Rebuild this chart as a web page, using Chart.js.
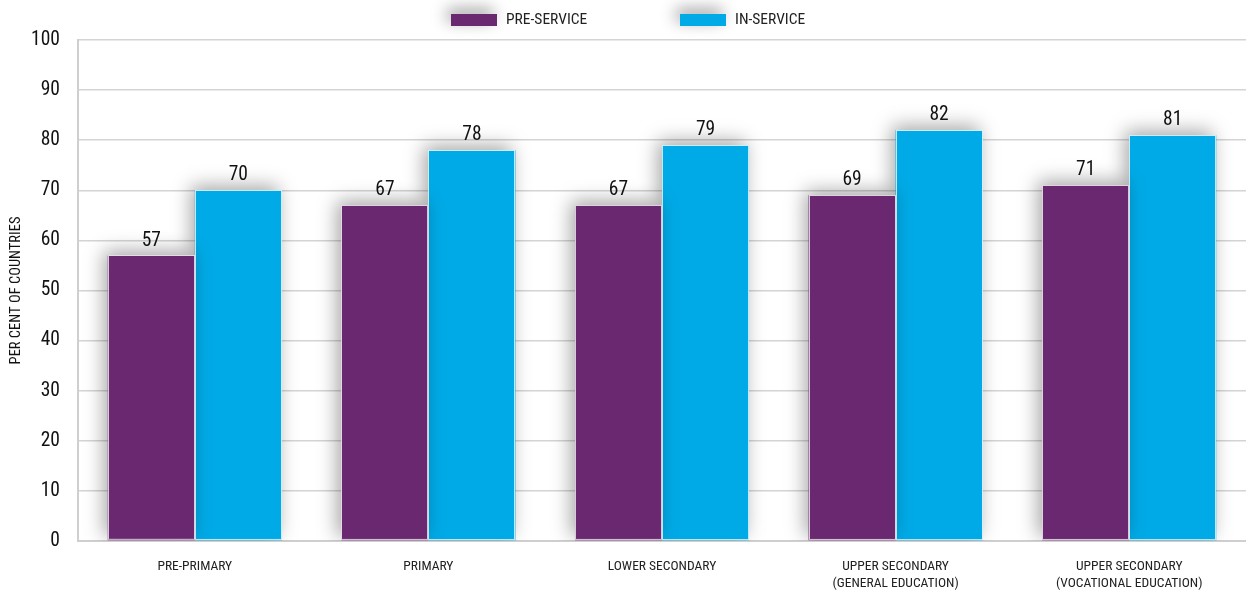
<!DOCTYPE html>
<html>
<head>
<meta charset="utf-8">
<script src="https://cdn.jsdelivr.net/npm/chart.js@4/dist/chart.umd.min.js"></script>
<style>
  html, body { margin: 0; padding: 0; background: #fff; }
  #wrap { width: 1246px; height: 590px; position: relative; }
</style>
</head>
<body>
<div id="wrap"><canvas id="chart"></canvas></div>
<script>
const levels = [
  'PRE-PRIMARY',
  'PRIMARY',
  'LOWER SECONDARY',
  ['UPPER SECONDARY', '(GENERAL EDUCATION)'],
  ['UPPER SECONDARY', '(VOCATIONAL EDUCATION)']
];
const preService = [57, 67, 67, 69, 71];
const inService = [70, 78, 79, 82, 81];
const yTicks = [0, 10, 20, 30, 40, 50, 60, 70, 80, 90, 100];

const FONT = '"Roboto Condensed", "Liberation Sans Narrow", "DejaVu Sans Condensed", "DejaVu Sans", sans-serif';
const STRETCH = 'condensed';

// soft shadow behind the bars (bars have no border so nothing clips it)
const barShadow = {
  id: 'barShadow',
  beforeDatasetsDraw(chart) {
    const ctx = chart.ctx;
    ctx.save();
    ctx.shadowColor = 'rgba(0,0,0,0.35)';
    ctx.shadowBlur = 18;
    ctx.shadowOffsetX = -4;
    ctx.shadowOffsetY = -4;
  },
  afterDatasetsDraw(chart) {
    chart.ctx.restore();
  }
};

// thin light outline + value labels above each bar
const valueLabels = {
  id: 'valueLabels',
  afterDatasetsDraw(chart) {
    const ctx = chart.ctx;
    ctx.save();
    ctx.strokeStyle = 'rgba(255,255,255,0.75)';
    ctx.lineWidth = 1;
    chart.data.datasets.forEach((ds, i) => {
      chart.getDatasetMeta(i).data.forEach(bar => {
        const left = Math.round(bar.x - bar.width / 2) + 0.5;
        const w = Math.round(bar.width) - 1;
        ctx.strokeRect(left, Math.round(bar.y) + 0.5, w, bar.base - bar.y - 1);
      });
    });
    ctx.font = STRETCH + ' 19.5px ' + FONT;
    ctx.fillStyle = '#111';
    ctx.textAlign = 'center';
    ctx.textBaseline = 'bottom';
    chart.data.datasets.forEach((ds, i) => {
      chart.getDatasetMeta(i).data.forEach((bar, j) => {
        ctx.fillText(ds.data[j], bar.x, bar.y - 5);
      });
    });
    ctx.restore();
  }
};

// legend row above the plot, spaced like the original
const topLegend = {
  id: 'topLegend',
  afterDraw(chart) {
    const ctx = chart.ctx;
    const starts = [451, 680];
    ctx.save();
    ctx.font = STRETCH + ' 15.5px ' + FONT;
    ctx.textBaseline = 'middle';
    chart.data.datasets.forEach((ds, i) => {
      const x = starts[i];
      ctx.save();
      ctx.shadowColor = 'rgba(0,0,0,0.4)';
      ctx.shadowBlur = 16;
      ctx.shadowOffsetX = -4;
      ctx.shadowOffsetY = -5;
      ctx.fillStyle = ds.backgroundColor;
      ctx.fillRect(x, 14, 46, 12);
      ctx.restore();
      ctx.fillStyle = '#222';
      ctx.fillText(ds.label, x + 55, 20.5);
    });
    ctx.restore();
  }
};

new Chart(document.getElementById('chart'), {
  type: 'bar',
  data: {
    labels: levels,
    datasets: [
      {
        label: 'PRE-SERVICE',
        data: preService,
        backgroundColor: '#6a2871',
        borderWidth: 0
      },
      {
        label: 'IN-SERVICE',
        data: inService,
        backgroundColor: '#00aae6',
        borderWidth: 0
      }
    ]
  },
  options: {
    responsive: true,
    maintainAspectRatio: false,
    animation: false,
    layout: { padding: { left: 8, right: 0, top: 40, bottom: 0 } },
    datasets: {
      bar: { categoryPercentage: 0.745, barPercentage: 1 }
    },
    plugins: {
      tooltip: { enabled: false },
      legend: { display: false }
    },
    scales: {
      x: {
        grid: { display: false, drawTicks: false },
        border: { color: '#cfcfcf', width: 2 },
        ticks: {
          color: '#222',
          font: { family: FONT, size: 13.5, style: STRETCH },
          padding: 18,
          maxRotation: 0,
          autoSkip: false
        },
        afterFit(scale) { scale.height = 49; }
      },
      y: {
        min: 0,
        max: 100,
        afterBuildTicks(scale) { scale.ticks = yTicks.map(v => ({ value: v })); },
        grid: { color: '#d4d4d4', lineWidth: 1.5, drawTicks: false },
        border: { color: '#cfcfcf', width: 2 },
        ticks: {
          color: '#111',
          font: { family: FONT, size: 19.5, style: STRETCH },
          padding: 18
        },
        title: {
          display: true,
          text: 'PER CENT OF COUNTRIES',
          color: '#111',
          font: { family: FONT, size: 14.5, style: STRETCH },
          padding: { top: 0, bottom: 4 }
        },
        afterFit(scale) { scale.width = 70; }
      }
    }
  },
  plugins: [barShadow, valueLabels, topLegend]
});
</script>
</body>
</html>
